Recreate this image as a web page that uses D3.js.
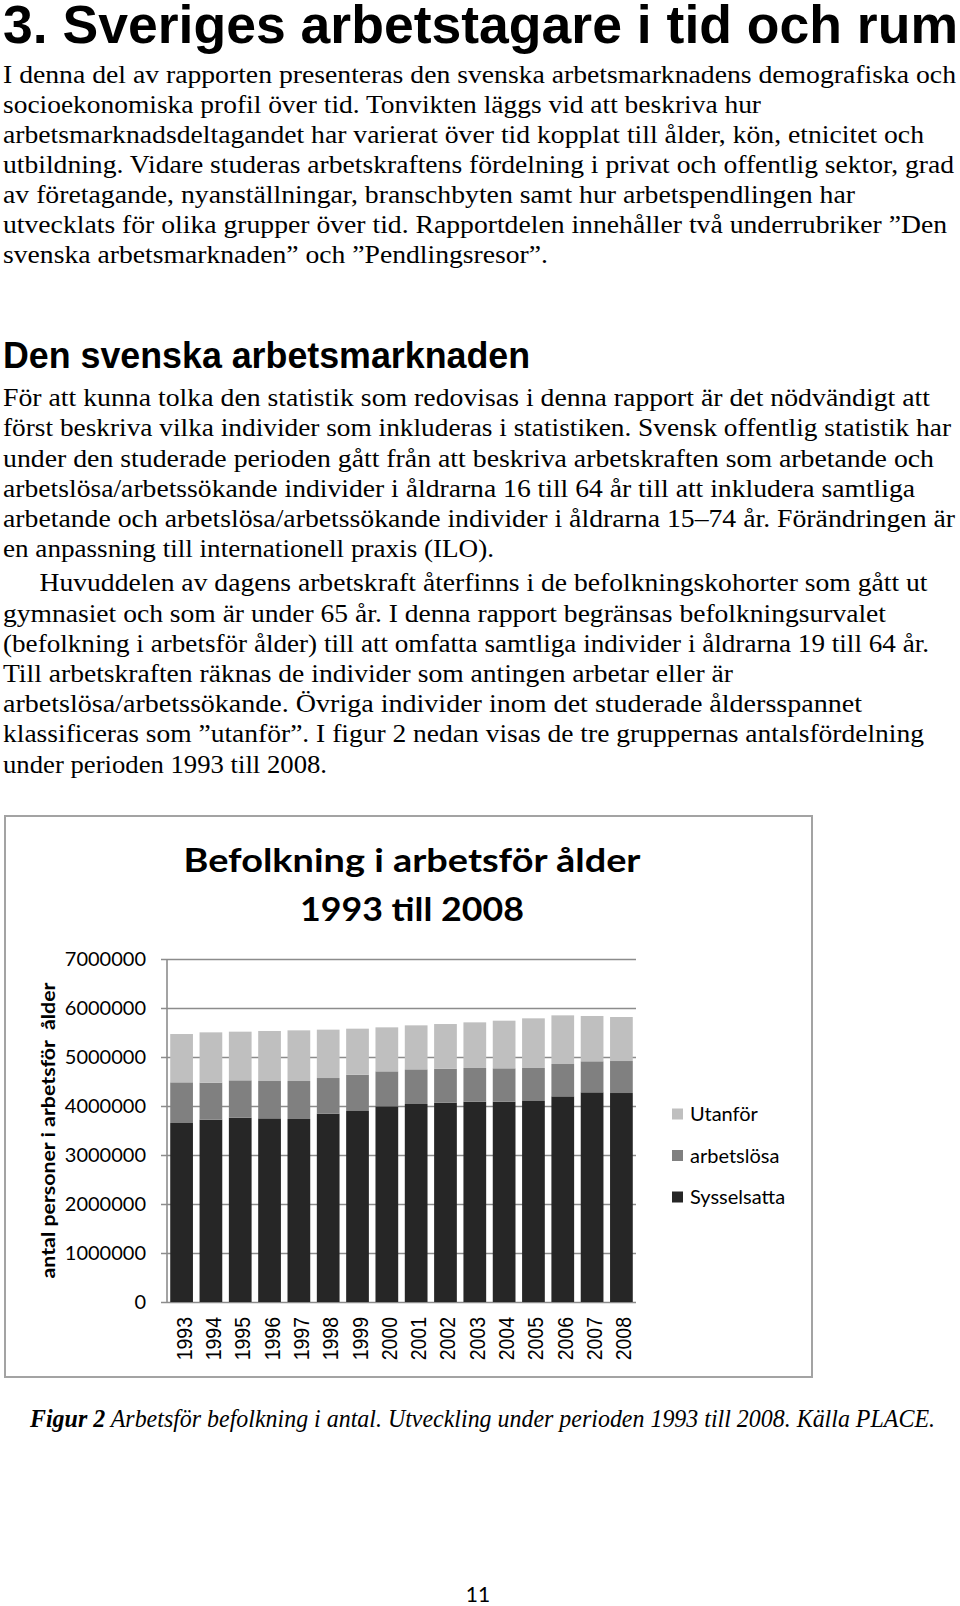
<!DOCTYPE html>
<html>
<head>
<meta charset="utf-8">
<script src="https://cdn.jsdelivr.net/npm/d3@7"></script>
<style>
    body { margin: 0; background: #fff; }
    svg { display: block; }
</style>
</head>
<body>
<div id="page"></div>
<script>

const years = ['1993', '1994', '1995', '1996', '1997', '1998', '1999', '2000',
    '2001', '2002', '2003', '2004', '2005', '2006', '2007', '2008'];
const sysselsatta = [3653000, 3721000, 3762000, 3748000, 3735000, 3844000, 3898000, 3993000,
    4041000, 4068000, 4088000, 4088000, 4102000, 4197000, 4279000, 4265000];
const arbetslosa = [830000, 755000, 762000, 762000, 775000, 727000, 741000, 714000,
    707000, 694000, 688000, 681000, 674000, 660000, 633000, 653000];
const utanfor = [986000, 1027000, 993000, 1021000, 1034000, 987000, 939000, 898000,
    898000, 911000, 931000, 972000, 1013000, 993000, 925000, 898000];
const series_names = ['Sysselsatta', 'arbetslösa', 'Utanför'];
const y_ticks = [0, 1000000, 2000000, 3000000, 4000000, 5000000, 6000000, 7000000];

const chart_title = ['Befolkning i arbetsför ålder', '1993 till 2008'];
const y_title = 'antal personer i arbetsför  ålder';

const para_1 = [
    'I denna del av rapporten presenteras den svenska arbetsmarknadens demografiska och',
    'socioekonomiska profil över tid. Tonvikten läggs vid att beskriva hur',
    'arbetsmarknadsdeltagandet har varierat över tid kopplat till ålder, kön, etnicitet och',
    'utbildning. Vidare studeras arbetskraftens fördelning i privat och offentlig sektor, grad',
    'av företagande, nyanställningar, branschbyten samt hur arbetspendlingen har',
    'utvecklats för olika grupper över tid. Rapportdelen innehåller två underrubriker ”Den',
    'svenska arbetsmarknaden” och ”Pendlingsresor”.'
];
const para_2 = [
    'För att kunna tolka den statistik som redovisas i denna rapport är det nödvändigt att',
    'först beskriva vilka individer som inkluderas i statistiken. Svensk offentlig statistik har',
    'under den studerade perioden gått från att beskriva arbetskraften som arbetande och',
    'arbetslösa/arbetssökande individer i åldrarna 16 till 64 år till att inkludera samtliga',
    'arbetande och arbetslösa/arbetssökande individer i åldrarna 15–74 år. Förändringen är',
    'en anpassning till internationell praxis (ILO).',
    'Huvuddelen av dagens arbetskraft återfinns i de befolkningskohorter som gått ut',
    'gymnasiet och som är under 65 år. I denna rapport begränsas befolkningsurvalet',
    '(befolkning i arbetsför ålder) till att omfatta samtliga individer i åldrarna 19 till 64 år.',
    'Till arbetskraften räknas de individer som antingen arbetar eller är',
    'arbetslösa/arbetssökande. Övriga individer inom det studerade åldersspannet',
    'klassificeras som ”utanför”. I figur 2 nedan visas de tre gruppernas antalsfördelning',
    'under perioden 1993 till 2008.'
];

// layout of the text lines (x, baseline, width)
const para_1_layout = [
    [3, 83, 953], [3, 113, 758], [3, 143, 921], [3, 173, 951],
    [3, 203, 852], [3, 233, 944], [3, 263, 545]
];
const para_2_layout = [
    [3, 406, 927], [3, 436, 948], [3, 466.5, 931], [3, 496.5, 912], [3, 526.5, 952],
    [3, 557, 491], [39.5, 590.5, 888], [3, 621.5, 883], [3, 651.5, 926], [3, 682, 730],
    [3, 712, 859], [3, 742, 921], [3, 773, 324]
];

const body_font = '"Liberation Serif", "DejaVu Serif", serif';
const chart_font = 'Lato, "Open Sans", sans-serif';
const head_font = '"Liberation Sans Narrow", "Liberation Sans", Arial, sans-serif';

let svg = d3.select('#page').append('svg')
    .attr('width', 960)
    .attr('height', 1606);

// headings
svg.append('text')
    .attr('x', 3).attr('y', 43)
    .attr('textLength', 955).attr('lengthAdjust', 'spacingAndGlyphs')
    .style('font-family', head_font)
    .style('font-weight', 'bold')
    .style('font-size', 53 + 'px')
    .text('3. Sveriges arbetstagare i tid och rum');

svg.append('text')
    .attr('x', 3).attr('y', 368)
    .attr('textLength', 527).attr('lengthAdjust', 'spacingAndGlyphs')
    .style('font-family', head_font)
    .style('font-weight', 'bold')
    .style('font-size', 36 + 'px')
    .text('Den svenska arbetsmarknaden');

function draw_lines (lines, layout) {
    lines.forEach(function (line, i) {
        svg.append('text')
            .attr('x', layout[i][0])
            .attr('y', layout[i][1])
            .attr('textLength', layout[i][2])
            .attr('lengthAdjust', 'spacingAndGlyphs')
            .style('font-family', body_font)
            .style('font-size', 25 + 'px')
            .style('fill', '#000')
            .text(line);
    });
}
draw_lines(para_1, para_1_layout);
draw_lines(para_2, para_2_layout);

// chart frame
svg.append('rect')
    .attr('x', 5).attr('y', 816)
    .attr('width', 807).attr('height', 561)
    .style('fill', '#fff')
    .style('stroke', '#a3a3a3')
    .style('stroke-width', 2);

chart_title.forEach(function (t, i) {
    svg.append('text')
        .attr('x', 412)
        .attr('y', 872 + i * 49)
        .attr('textLength', i == 0 ? 457 : 224)
        .attr('lengthAdjust', 'spacingAndGlyphs')
        .style('text-anchor', 'middle')
        .style('font-family', chart_font)
        .style('font-weight', 'bold')
        .style('font-size', 33 + 'px')
        .text(t);
});

const x = d3.scaleBand()
    .domain(years)
    .range([167, 636])
    .paddingInner(0.225)
    .paddingOuter(0.11);

const y = d3.scaleLinear()
    .domain([0, 7000000])
    .range([1302, 959]);

const colors = d3.scaleOrdinal()
    .domain(series_names)
    .range(['#262626', '#808080', '#bfbfbf']);

// gridlines + tick labels
let y_axis = svg.append('g')
    .attr('transform', 'translate(161,0)')
    .call(d3.axisLeft(y).tickValues(y_ticks).tickSize(-475).tickPadding(15).tickFormat(d3.format('d')));
y_axis.select('.domain').remove();
y_axis.selectAll('line')
    .style('stroke', '#8c8c8c')
    .style('stroke-width', 1.6);
y_axis.selectAll('text')
    .style('font-family', chart_font)
    .style('font-size', 20 + 'px')
    .style('fill', '#000');

svg.append('line')
    .attr('x1', 167).attr('x2', 167)
    .attr('y1', y(7000000)).attr('y2', y(0))
    .style('stroke', '#8c8c8c')
    .style('stroke-width', 1.6);

// stacked bars
let table = years.map(function (yr, i) {
    return { year: yr, 'Sysselsatta': sysselsatta[i], 'arbetslösa': arbetslosa[i], 'Utanför': utanfor[i] };
});
let stacked = d3.stack().keys(series_names)(table);

svg.append('g').selectAll('g')
    .data(stacked)
    .join('g')
    .style('fill', d => colors(d.key))
    .selectAll('rect')
    .data(d => d)
    .join('rect')
    .attr('x', d => x(d.data.year))
    .attr('width', x.bandwidth())
    .attr('y', d => y(d[1]))
    .attr('height', d => y(d[0]) - y(d[1]));

// year labels, rotated and a bit stretched across like the original
let x_axis = svg.append('g')
    .attr('transform', 'translate(0,' + y(0) + ')')
    .call(d3.axisBottom(x).tickSize(0));
x_axis.select('.domain').remove();
x_axis.selectAll('text')
    .attr('transform', 'translate(10,15) rotate(-90) scale(1,1.15)')
    .attr('x', 0)
    .attr('y', 0)
    .attr('dy', 0)
    .style('text-anchor', 'end')
    .style('font-family', '"Liberation Sans", Arial, sans-serif')
    .style('font-size', 19.5 + 'px')
    .style('fill', '#000');

// y title
svg.append('text')
    .attr('transform', 'translate(55,' + ((y(0) + y(7000000)) / 2) + ') rotate(-90)')
    .attr('textLength', 296)
    .attr('lengthAdjust', 'spacingAndGlyphs')
    .attr('xml:space', 'preserve')
    .style('white-space', 'pre')
    .style('text-anchor', 'middle')
    .style('font-family', chart_font)
    .style('font-weight', 'bold')
    .style('font-size', 19 + 'px')
    .text(y_title);

// legend (top to bottom: Utanför, arbetslösa, Sysselsatta)
series_names.slice().reverse().forEach(function (name, i) {
    let cy = 1114 + i * 41.5;
    svg.append('rect')
        .attr('x', 672).attr('y', cy - 5.5)
        .attr('width', 11).attr('height', 11)
        .style('fill', colors(name));
    svg.append('text')
        .attr('x', 690)
        .attr('y', cy + 7)
        .style('font-family', chart_font)
        .style('font-size', 20 + 'px')
        .style('fill', '#000')
        .text(name);
});

// caption
let caption = svg.append('text')
    .attr('x', 30).attr('y', 1427)
    .attr('textLength', 905)
    .attr('lengthAdjust', 'spacingAndGlyphs')
    .style('font-family', body_font)
    .style('font-style', 'italic')
    .style('font-size', 25 + 'px');
caption.append('tspan').style('font-weight', 'bold').text('Figur 2');
caption.append('tspan').text(' Arbetsför befolkning i antal. Utveckling under perioden 1993 till 2008. Källa PLACE.');

// page number
svg.append('text')
    .attr('x', 478).attr('y', 1602)
    .style('text-anchor', 'middle')
    .style('font-family', chart_font)
    .style('font-size', 21 + 'px')
    .text('11');

</script>
</body>
</html>
